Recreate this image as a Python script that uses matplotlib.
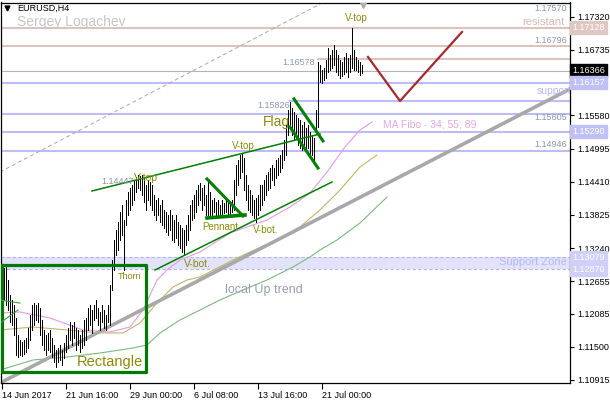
import matplotlib
matplotlib.use('Agg')
import matplotlib.pyplot as plt
import matplotlib.transforms as mtransforms

plt.rcParams['font.family'] = ['Liberation Sans', 'DejaVu Sans']

# EURUSD H4 bars (high / low), 14 Jun 2017 .. 25 Jul 2017
highs = [
    1.1277, 1.1289, 1.1294, 1.1268, 1.1241, 1.1233, 1.1224, 1.1201, 1.1171, 1.1162,
    1.1158, 1.1162, 1.1166, 1.1183, 1.1206, 1.1224, 1.1227, 1.1224, 1.1227, 1.1218,
    1.1197, 1.1180, 1.1171, 1.1174, 1.1180, 1.1166, 1.1153, 1.1144, 1.1148, 1.1153,
    1.1144, 1.1157, 1.1171, 1.1183, 1.1194, 1.1188, 1.1194, 1.1183, 1.1180, 1.1171,
    1.1180, 1.1197, 1.1201, 1.1218, 1.1224, 1.1215, 1.1224, 1.1233, 1.1218, 1.1211,
    1.1224, 1.1215, 1.1206, 1.1224, 1.1259, 1.1303, 1.1338, 1.1356, 1.1370, 1.1388,
    1.1400, 1.1374, 1.1409, 1.1423, 1.1430, 1.1435, 1.1444, 1.1449, 1.1453, 1.1451,
    1.1453, 1.1448, 1.1435, 1.1444, 1.1441, 1.1435, 1.1418, 1.1409, 1.1412, 1.1400,
    1.1409, 1.1391, 1.1388, 1.1383, 1.1391, 1.1383, 1.1374, 1.1383, 1.1370, 1.1365,
    1.1359, 1.1356, 1.1365, 1.1383, 1.1400, 1.1409, 1.1418, 1.1426, 1.1435, 1.1439,
    1.1430, 1.1435, 1.1418, 1.1441, 1.1423, 1.1409, 1.1412, 1.1405, 1.1409, 1.1400,
    1.1409, 1.1403, 1.1412, 1.1405, 1.1400, 1.1409, 1.1444, 1.1470, 1.1479, 1.1488,
    1.1491, 1.1483, 1.1453, 1.1435, 1.1426, 1.1418, 1.1409, 1.1412, 1.1418, 1.1435,
    1.1435, 1.1444, 1.1453, 1.1458, 1.1465, 1.1470, 1.1465, 1.1479, 1.1483, 1.1488,
    1.1497, 1.1515, 1.1541, 1.1568, 1.1582, 1.1571, 1.1564, 1.1559, 1.1553, 1.1550,
    1.1541, 1.1546, 1.1536, 1.1541, 1.1529, 1.1523, 1.1518, 1.1568, 1.1652, 1.1647,
    1.1638, 1.1642, 1.1656, 1.1677, 1.1665, 1.1673, 1.1682, 1.1673, 1.1665, 1.1656,
    1.1652, 1.1661, 1.1668, 1.1659, 1.1665, 1.1712, 1.1673, 1.1661, 1.1656, 1.1652,
    1.1647,
]
lows = [
    1.1197, 1.1233, 1.1224, 1.1215, 1.1194, 1.1188, 1.1171, 1.1136, 1.1132, 1.1136,
    1.1134, 1.1137, 1.1141, 1.1148, 1.1162, 1.1180, 1.1188, 1.1197, 1.1194, 1.1171,
    1.1153, 1.1144, 1.1136, 1.1144, 1.1141, 1.1132, 1.1123, 1.1115, 1.1123, 1.1127,
    1.1118, 1.1130, 1.1141, 1.1148, 1.1162, 1.1153, 1.1166, 1.1144, 1.1153, 1.1141,
    1.1148, 1.1153, 1.1162, 1.1180, 1.1188, 1.1174, 1.1197, 1.1201, 1.1188, 1.1180,
    1.1194, 1.1183, 1.1180, 1.1194, 1.1188, 1.1250, 1.1285, 1.1312, 1.1321, 1.1338,
    1.1347, 1.1285, 1.1365, 1.1383, 1.1391, 1.1400, 1.1409, 1.1423, 1.1430, 1.1426,
    1.1418, 1.1405, 1.1391, 1.1409, 1.1400, 1.1391, 1.1383, 1.1374, 1.1383, 1.1370,
    1.1365, 1.1359, 1.1352, 1.1347, 1.1356, 1.1338, 1.1335, 1.1342, 1.1329, 1.1324,
    1.1317, 1.1312, 1.1329, 1.1338, 1.1356, 1.1374, 1.1377, 1.1388, 1.1400, 1.1409,
    1.1391, 1.1400, 1.1383, 1.1383, 1.1383, 1.1377, 1.1388, 1.1383, 1.1379, 1.1379,
    1.1384, 1.1386, 1.1388, 1.1383, 1.1384, 1.1388, 1.1391, 1.1418, 1.1435, 1.1448,
    1.1458, 1.1426, 1.1409, 1.1391, 1.1388, 1.1383, 1.1377, 1.1370, 1.1383, 1.1391,
    1.1400, 1.1409, 1.1418, 1.1426, 1.1430, 1.1444, 1.1435, 1.1448, 1.1453, 1.1458,
    1.1465, 1.1479, 1.1488, 1.1523, 1.1536, 1.1523, 1.1515, 1.1518, 1.1506, 1.1501,
    1.1497, 1.1506, 1.1494, 1.1501, 1.1483, 1.1488, 1.1476, 1.1532, 1.1538, 1.1617,
    1.1615, 1.1620, 1.1624, 1.1635, 1.1638, 1.1642, 1.1647, 1.1635, 1.1629, 1.1624,
    1.1627, 1.1631, 1.1635, 1.1626, 1.1635, 1.1642, 1.1638, 1.1638, 1.1635, 1.1629,
    1.1633,
]

time_ticks = [0, 32, 64, 96, 128, 160]
time_labels = ['14 Jun 2017', '21 Jun 16:00', '29 Jun 00:00', '6 Jul 08:00',
               '13 Jul 16:00', '21 Jul 00:00']
price_ticks = [1.17320, 1.16735, 1.15580, 1.14995, 1.14410, 1.13825,
               1.13240, 1.12655, 1.12085, 1.11500, 1.10915]

# MA Fibo 34 / 55 / 89 (shifted)
ma34_x = [-1, 9, 24, 40.5, 54, 64, 70.5, 77.5, 82.5, 89, 99, 114, 132.5, 144, 154, 162.5, 171.5, 179, 185]
ma34_y = [1.12096, 1.12114, 1.12008, 1.11797, 1.11761, 1.11849, 1.12149, 1.12678, 1.12854, 1.13031,
          1.13172, 1.13507, 1.13736, 1.13965, 1.14212, 1.14582, 1.15023, 1.15323, 1.15464]
ma55_x = [-1, 15.5, 32.5, 49, 60.5, 69, 77.5, 85.5, 92.5, 99, 115.5, 124, 137.5, 149, 159, 169, 179, 187.5]
ma55_y = [1.11797, 1.11849, 1.11797, 1.11744, 1.11744, 1.11920, 1.12273, 1.12555, 1.12678, 1.12731,
          1.13031, 1.13172, 1.13383, 1.13613, 1.13913, 1.14264, 1.14670, 1.14882]
ma89_x = [-1, 15.5, 32.5, 49, 65.5, 72.5, 79, 89, 99, 109, 120.5, 132.5, 145.5, 154, 159, 167.5, 179, 192.5]
ma89_y = [1.11091, 1.11268, 1.11320, 1.11391, 1.11479, 1.11532, 1.11744, 1.11973, 1.12149, 1.12326,
          1.12502, 1.12678, 1.12907, 1.13084, 1.13207, 1.13383, 1.13683, 1.14141]

resist_levels = [1.17128, 1.16796]
support_levels = [1.16157, 1.15605, 1.15290, 1.14946]
bid_price = 1.16366
zone_low, zone_high = 1.12870, 1.13079
# (start bar, price) of levels drawn from a bar to the right edge
short_resist = (158, 1.16578)
short_support = (144, 1.15826)

axis_boxes = [(1.17128, '#dec8c1'), (1.16366, '#000000'), (1.16157, '#c0c0f6'),
              (1.15290, '#c0c0f6'), (1.13079, '#cfcff8'), (1.12870, '#cfcff8')]
level_notes = [(1.17473, '1.17570'), (1.16892, '1.16796'), (1.15534, '1.15605'), (1.15058, '1.14946')]

# trend lines (bar, price)
uptrend = ([-1, 284], [1.10862, 1.16045])
channel_top = ([-1, 161], [1.14582, 1.17579])
projection = ([183, 199, 230], [1.16610, 1.15834, 1.17050])
vtop_line = ([45, 159], [1.14247, 1.15252])
vbot_line = ([76.5, 165], [1.12854, 1.14406])
pennant_top = ([102.5, 120.5], [1.14459, 1.13806])
pennant_bot = ([102.5, 121.5], [1.13771, 1.13824])
flag_top = ([146, 160.5], [1.15869, 1.15129])
flag_bot = ([144, 158], [1.15375, 1.14652])
rect_x = [0, 72, 72, 0, 0]
rect_y = [1.12942, 1.12942, 1.11056, 1.11056, 1.12942]
old_lines = [([-1, 9], [1.12325, 1.12272]), ([-1, 8], [1.11920, 1.12149])]

# pattern labels: (bar, price, text, size)
pattern_labels = [(72.2, 1.14476, 'V-top', 7.5), (120.5, 1.15040, 'V-top', 7), (177, 1.17297, 'V-top', 7),
                  (109, 1.13612, 'Pennant', 7), (97.5, 1.12960, 'V-bot.', 7.5), (132, 1.13560, 'V-bot.', 7),
                  (64, 1.12731, 'Thorn', 6.5), (54, 1.11232, 'Rectangle', 10.5), (137, 1.15464, 'Flag', 10)]
price_notes = [(58, 1.14406, '1.14447'), (136, 1.15746, '1.15826'), (148.5, 1.16521, '1.16578')]

fig = plt.figure(figsize=(6.1, 4.0), dpi=100)
ax = fig.add_axes([1 / 610, 17 / 400, 569 / 610, 380.5 / 400])
ax.set_xlim(-0.5, 284)
ax.set_ylim(1.10862, 1.17570)

pink = '#dcc4bc'
blue = '#bcbcf6'
olive = '#8c8a0a'
green = '#008000'

# levels
for p in resist_levels:
    ax.axhline(p, color=pink, lw=1.5, zorder=1)
for p in support_levels:
    ax.axhline(p, color=blue, lw=1.5, zorder=1)
ax.axhline(bid_price, color='#b4b4b4', lw=0.8, zorder=1)
ax.plot([short_resist[0], 284], [short_resist[1]] * 2, color=pink, lw=1.5, zorder=1)
ax.plot([short_support[0], 284], [short_support[1]] * 2, color=blue, lw=1.5, zorder=1)
ax.axhspan(zone_low, zone_high, color='#e2e2fb', lw=0, zorder=0)
for p in (zone_low, zone_high):
    ax.axhline(p, color='#b4b4ee', lw=0.8, ls=(0, (3, 2)), zorder=1)

# moving averages
ax.plot(ma34_x, ma34_y, color='#e49ae4', lw=0.8, zorder=2)
ax.plot(ma55_x, ma55_y, color='#c3b468', lw=0.8, zorder=2)
ax.plot(ma89_x, ma89_y, color='#7cba7c', lw=0.8, zorder=2)

# trend lines
ax.plot(*uptrend, color='#a8a8a8', lw=2.6, zorder=2)
ax.plot(*channel_top, color='#a8a8a8', lw=0.7, ls=(0, (4, 3)), zorder=2)
ax.plot(*projection, color='#a52a2a', lw=1.6, zorder=3)

# bars (1 px lines)
ax.vlines(range(len(highs)), lows, highs, colors='black', lw=0.55, zorder=4, antialiased=False)

# patterns
ax.plot(*vtop_line, color=green, lw=1.1, zorder=5)
ax.plot(*vbot_line, color=green, lw=1.1, zorder=5)
ax.plot(*pennant_top, color=green, lw=2.2, zorder=5)
ax.plot(*pennant_bot, color=green, lw=2.6, zorder=5)
ax.plot(*flag_top, color=green, lw=2.2, zorder=5)
ax.plot(*flag_bot, color=green, lw=2.2, zorder=5)
ax.plot(rect_x, rect_y, color='#007a00', lw=2.3, zorder=5)
for xs, ys in old_lines:
    ax.plot(xs, ys, color='#3c9e3c', lw=0.8, zorder=5)

for bx, py, txt, fs in pattern_labels:
    ax.text(bx, py, txt, color=olive, fontsize=fs, ha='center', va='center', zorder=6)
for bx, py, txt in price_notes:
    ax.text(bx, py, txt, color='#8c96a8', fontsize=6.5, ha='center', va='center', zorder=6)
for py, txt in level_notes:
    ax.text(282.5, py, txt, color='#8c96a8', fontsize=6.5, ha='right', va='center', zorder=6)

ax.text(281.5, 1.17227, 'resistant', color='#d6bab2', fontsize=8, ha='right', va='center', zorder=6)
ax.text(284.5, 1.16012, 'support', color='#b8b8f0', fontsize=7.5, ha='right', va='center', zorder=6, clip_on=True)
ax.text(282.5, 1.12996, 'Support Zone', color='#b8b8f0', fontsize=8, ha='right', va='center', zorder=6)
ax.text(190.5, 1.15411, 'MA Fibo - 34; 55; 89', color='#e2a8e2', fontsize=7.5, ha='left', va='center', zorder=6)
ax.text(111.5, 1.12502, 'local Up trend', color='#98a0b0', fontsize=9, ha='left', va='center', zorder=6)

ax.text(0.028, 0.986, 'EURUSD,H4', transform=ax.transAxes, fontsize=6.5, color='black', va='center')
ax.text(0.028, 0.949, 'Sergey Logachev', transform=ax.transAxes, fontsize=10, color='#c6c6c6', va='center')
ax.plot([0.0105], [0.986], marker='v', ms=3.5, color='black', transform=ax.transAxes, clip_on=False)
ax.plot([180.5], [1.17530], marker='v', ms=4, color='#b0b0b0', zorder=6)

# axes
ax.set_xticks(time_ticks)
ax.set_xticklabels(time_labels, fontsize=6.5)
for lbl in ax.get_xticklabels():
    lbl.set_ha('left')
ax.tick_params(axis='x', direction='out', length=4, pad=2, width=0.8)
ax.yaxis.tick_right()
ax.set_yticks(price_ticks)
ax.set_yticklabels(['%.5f' % p for p in price_ticks], fontsize=6.5)
ax.tick_params(axis='y', direction='out', length=3, pad=2, width=0.8)
for s in ax.spines.values():
    s.set_color('black')
    s.set_linewidth(0.9)

trans = mtransforms.blended_transform_factory(ax.transAxes, ax.transData)
for py, c in axis_boxes:
    ax.text(1.004, py, '%.5f' % py, transform=trans, fontsize=6.5, color='white',
            ha='left', va='center', zorder=7,
            bbox=dict(boxstyle='square,pad=0.22', facecolor=c, edgecolor=c))

fig.savefig('out.png', dpi=100)
